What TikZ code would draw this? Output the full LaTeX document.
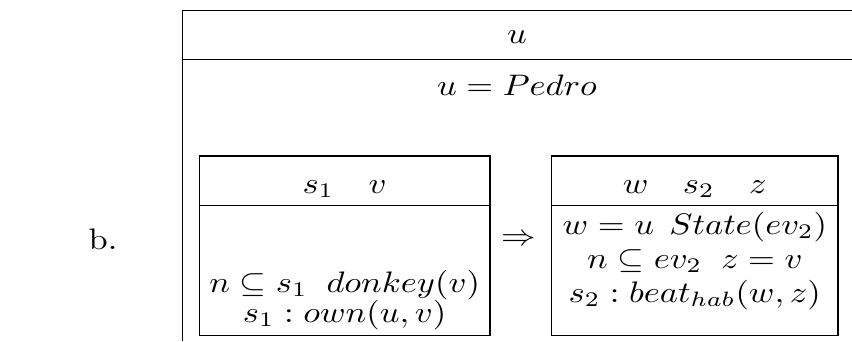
\documentclass[tikz,border=0pt]{standalone}
\usepackage{graphicx}
\newcommand{\sq}[1]{\scalebox{1}[0.86]{#1}}
\begin{document}
\begin{tikzpicture}[x=0.29pt,y=-0.29pt,line width=0.45pt,
  txt/.style={anchor=base,inner sep=0pt},
  drsbox/.style={draw,inner sep=0pt,minimum height=52.1pt}]
\useasboundingbox (0,0) rectangle (852,341);
% outer box (right side and bottom cut off)
\coordinate (otl) at (182.5,10.5);
\coordinate (otr) at (852,10.5);
\coordinate (odl) at (182.5,59.5);
\coordinate (odr) at (852,59.5);
\coordinate (obl) at (182.5,341);
\draw (otr) -- (otl) -- (obl);
\draw (odl) -- (odr);
\node[txt] (u) at (517,43) {\sq{$u$}};
\node[txt] (ueq) at (517,95) {\sq{$u = Pedro$}};
\node[txt] (lbl) at (103,249) {\sq{b.}};
% left sub-box
\node[drsbox,minimum width=84.2pt] (lb) at (344.6,245.75) {};
\coordinate (lda) at (199.5,205.3);
\coordinate (ldb) at (489.7,205.3);
\draw (lda -| lb.west) -- (ldb -| lb.east);
\node[txt] (lh) at (344.6,193) {\sq{$s_1\quad v$}};
\node[txt] (l1) at (344.6,292) {\sq{$n \subseteq s_1\hspace{5.5pt} donkey(v)$}};
\node[txt] (l2) at (344.6,322) {\sq{$s_1 : own(u,v)$}};
% arrow
\node[inner sep=0pt] (arr) at (519,240) {\sq{$\Rightarrow$}};
% right sub-box
\node[drsbox,minimum width=83.2pt] (rb) at (694.8,245.75) {};
\coordinate (rda) at (551.3,205.3);
\coordinate (rdb) at (838.3,205.3);
\draw (rda -| rb.west) -- (rdb -| rb.east);
\node[txt] (rh) at (694.8,193) {\sq{$w\quad s_2\quad z$}};
\node[txt] (r1) at (694.8,234) {\sq{$w = u\hspace{4.5pt} State(ev_2)$}};
\node[txt] (r2) at (694.8,268) {\sq{$n \subseteq ev_2\hspace{5.5pt} z = v$}};
\node[txt] (r3) at (694.8,302) {\sq{$s_2 : beat_{hab}(w,z)$}};
\end{tikzpicture}
\end{document}
